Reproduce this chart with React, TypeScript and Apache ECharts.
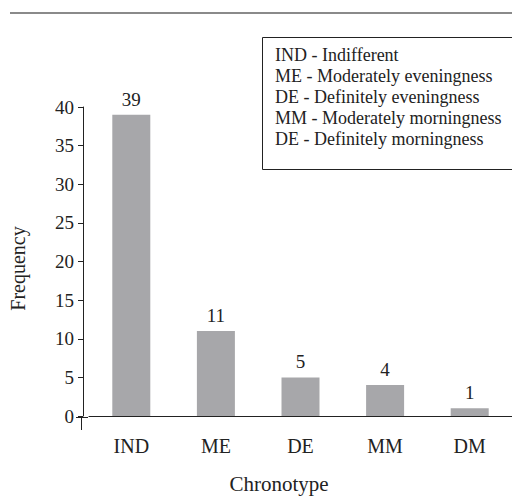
import React, { useEffect, useRef } from "react";
import * as echarts from "echarts";

const categories = ["IND", "ME", "DE", "MM", "DM"];
const frequencies = [39, 11, 5, 4, 1];
const legendLines = [
  "IND - Indifferent",
  "ME - Moderately eveningness",
  "DE - Definitely eveningness",
  "MM - Moderately morningness",
  "DE - Definitely morningness",
];

const FONT = "'Liberation Serif', 'Times New Roman', serif";

export default function App() {
  const ref = useRef<HTMLDivElement>(null);
  useEffect(() => {
    if (!ref.current) return;
    const chart = echarts.init(ref.current, null, { renderer: "svg" });
    const option: any = {
      animation: false,
      backgroundColor: "#ffffff",
      grid: { left: 87, right: -1, top: 107, bottom: 82, containLabel: false },
      xAxis: {
        type: "category",
        data: categories,
        name: "Chronotype",
        nameLocation: "middle",
        nameGap: 57,
        nameTextStyle: { fontFamily: FONT, fontSize: 21, color: "#222", padding: [0, 43, 0, 0] },
        axisLine: { show: true, onZero: true, lineStyle: { color: "#222", width: 1 } },
        axisTick: { show: false },
        axisLabel: { margin: 20, fontFamily: FONT, fontSize: 20, color: "#222" },
      },
      yAxis: {
        type: "value",
        min: 0,
        max: 40,
        interval: 5,
        offset: 6,
        name: "Frequency",
        nameLocation: "middle",
        nameGap: 55,
        nameRotate: 90,
        nameTextStyle: { fontFamily: FONT, fontSize: 20, color: "#222", padding: [0, 14, 0, 0] },
        axisLine: { show: true, lineStyle: { color: "#222", width: 1 } },
        axisTick: { show: true, length: 5, lineStyle: { color: "#222" } },
        axisLabel: { margin: 9, fontFamily: FONT, fontSize: 19, color: "#222" },
        splitLine: { show: false },
      },
      series: [
        {
          type: "bar",
          data: frequencies,
          barWidth: 38,
          itemStyle: { color: "#a7a7aa" },
          label: {
            show: true,
            position: "top",
            distance: 6,
            fontFamily: FONT,
            fontSize: 19,
            color: "#222",
          },
        },
      ],
      graphic: [
        { type: "line", shape: { x1: 10, y1: 13, x2: 512, y2: 13 }, style: { stroke: "#8a8a8a", lineWidth: 2 } },
        { type: "line", shape: { x1: 76, y1: 417.5, x2: 88, y2: 417.5 }, style: { stroke: "#222", lineWidth: 1 } },
        { type: "line", shape: { x1: 81.5, y1: 417, x2: 81.5, y2: 430 }, style: { stroke: "#222", lineWidth: 1 } },
        {
          type: "rect",
          shape: { x: 262.5, y: 37.5, width: 260, height: 132 },
          style: { fill: "#fff", stroke: "#222", lineWidth: 1 },
        },
        ...legendLines.map((t, i) => ({
          type: "text",
          x: 275,
          y: 55 + i * 21,
          style: {
            text: t,
            fontFamily: FONT,
            fontSize: 18,
            fill: "#222",
            verticalAlign: "middle",
            align: "left",
          },
        })),
      ],
    };
    chart.setOption(option);
    return () => chart.dispose();
  }, []);
  return (
    <div
      ref={ref}
      style={{ position: "fixed", left: 0, top: 0, width: 512, height: 499 }}
    />
  );
}
